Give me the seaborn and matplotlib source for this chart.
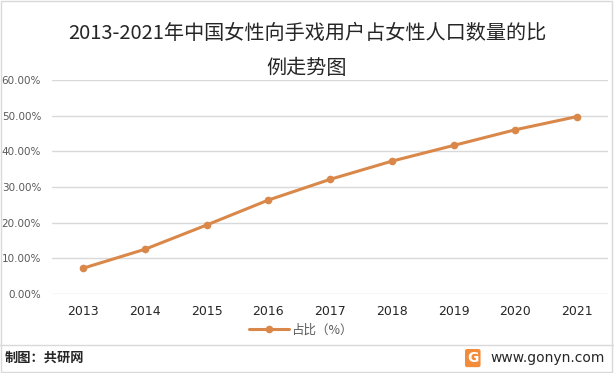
import pandas as pd
import seaborn as sns
import matplotlib.pyplot as plt
from matplotlib.ticker import PercentFormatter
from matplotlib.lines import Line2D

years = ['2013', '2014', '2015', '2016', '2017', '2018', '2019', '2020', '2021']
share = [7.2, 12.5, 19.3, 26.3, 32.1, 37.2, 41.6, 46.0, 49.7]
y_ticks = [0, 10, 20, 30, 40, 50, 60]

df = pd.DataFrame({'year': years, 'share': share})

sns.set_style('white')
plt.rcParams['font.family'] = ['Noto Sans CJK SC', 'DejaVu Sans']

color = '#D9884A'
fig = plt.figure(figsize=(6.14, 3.73), dpi=100)
ax = fig.add_axes([0.085, 0.212, 0.905, 0.574])

sns.lineplot(data=df, x='year', y='share', color=color, linewidth=2.2,
             marker='o', markersize=5.5, markeredgewidth=0, sort=False, ax=ax)

ax.set_xlim(-0.5, len(years) - 0.5)
ax.set_ylim(0, 60)
ax.set_yticks(y_ticks)
ax.yaxis.set_major_formatter(PercentFormatter(decimals=2))
ax.grid(axis='y', color='#D9D9D9', linewidth=1)
ax.set_axisbelow(True)
for s in ax.spines.values():
    s.set_visible(False)
ax.set_xlabel('')
ax.set_ylabel('')
ax.tick_params(axis='y', labelsize=7.5, labelcolor='#595959', length=0, pad=8)
ax.tick_params(axis='x', labelsize=9, labelcolor='#262626', length=0, pad=8)
for lab in ax.get_yticklabels():
    lab.set_fontfamily('DejaVu Sans')
for lab in ax.get_xticklabels():
    lab.set_fontfamily('DejaVu Sans')

handle = Line2D([], [], color=color, linewidth=2.2, marker='o', markersize=5.5, markeredgewidth=0)
fig.legend([handle], ['占比（%）'], loc='center', bbox_to_anchor=(0.49, 0.115),
           frameon=False, fontsize=9, labelcolor='#595959', handlelength=3.2, handletextpad=0.2)

fig.text(0.5, 0.91, '2013-2021年中国女性向手戏用户占女性人口数量的比', ha='center', va='center',
         fontsize=14.5, color='#262626')
fig.text(0.5, 0.817, '例走势图', ha='center', va='center', fontsize=14.5, color='#262626')

# footer
fig.add_artist(Line2D([0.0, 1.0], [0.075, 0.075], color='#D9D9D9', linewidth=1, transform=fig.transFigure))
fig.text(0.008, 0.04, '制图：共研网', ha='left', va='center', fontsize=9.5, color='#262626', fontweight='bold')
fig.text(0.985, 0.04, 'www.gonyn.com', ha='right', va='center', fontsize=10, color='#262626',
         fontfamily='DejaVu Sans')
fig.text(0.77, 0.04, 'G', ha='center', va='center', fontsize=10, color='white', fontweight='bold',
         fontfamily='DejaVu Sans',
         bbox=dict(boxstyle='round,pad=0.15', facecolor='#F28C3B', edgecolor='none'))

# outer border
fig.add_artist(plt.Rectangle((0.002, 0.003), 0.995, 0.994, fill=False, edgecolor='#D9D9D9',
                             linewidth=1, transform=fig.transFigure))

fig.savefig('out.png', dpi=100)
